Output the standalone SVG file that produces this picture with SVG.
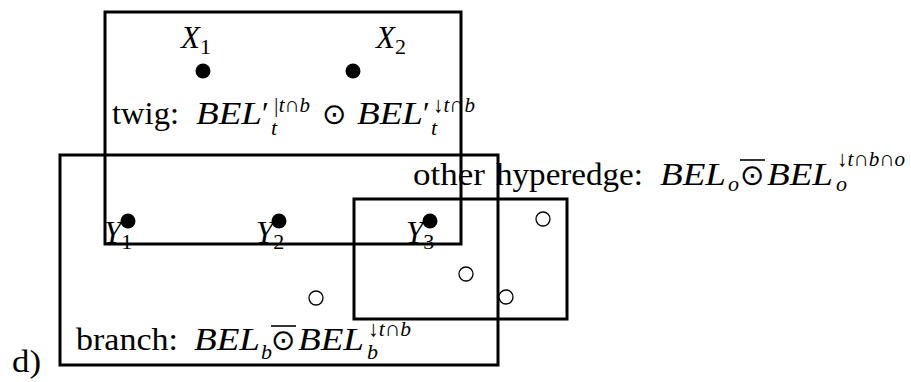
<svg xmlns="http://www.w3.org/2000/svg" width="911" height="382" viewBox="0 0 911 382">
<style>
.edge{fill:none;stroke:#000;stroke-width:3}
.dot{fill:#000}
.hollow{fill:#fff;stroke:#000;stroke-width:1.3}
text{font-family:"Liberation Serif","DejaVu Serif",serif;fill:#000}
.rm{font-size:31px}
.it{font-size:31px;font-style:italic}
.op{font-family:"DejaVu Sans",sans-serif;font-size:29px}
.sm{font-size:22px;font-style:italic}
.smr{font-size:22px}
.bar{stroke:#000;stroke-width:1.6}
</style>
<rect width="911" height="382" fill="#fff"/>
<g id="edges">
<rect id="twig" class="edge" x="105" y="12" width="356" height="232"/>
<rect id="branch" class="edge" x="60" y="155" width="438" height="210"/>
<rect id="other" class="edge" x="354" y="199" width="213" height="120"/>
</g>
<g id="label-twig">
<text class="rm" x="112" y="124" textLength="67" lengthAdjust="spacingAndGlyphs">twig:</text>
<text class="it" x="196" y="124" textLength="66" lengthAdjust="spacingAndGlyphs">BEL</text>
<text class="rm" x="262" y="124">′</text>
<text class="sm" x="273" y="112" textLength="37" lengthAdjust="spacingAndGlyphs">|t∩b</text>
<text class="sm" x="271" y="135">t</text>
<text class="op" x="322" y="124">⊙</text>
<text class="it" x="357" y="124" textLength="66" lengthAdjust="spacingAndGlyphs">BEL</text>
<text class="rm" x="423" y="124">′</text>
<text class="sm" x="433" y="112" textLength="42" lengthAdjust="spacingAndGlyphs">↓t∩b</text>
<text class="sm" x="431" y="135">t</text>
</g>
<g id="label-branch">
<text class="rm" x="76" y="350" textLength="102" lengthAdjust="spacingAndGlyphs">branch:</text>
<text class="it" x="194" y="350" textLength="66" lengthAdjust="spacingAndGlyphs">BEL</text>
<text class="sm" x="261" y="359">b</text>
<line class="bar" x1="271" y1="326" x2="296" y2="326"/>
<text class="op" x="271" y="350">⊙</text>
<text class="it" x="298" y="350" textLength="66" lengthAdjust="spacingAndGlyphs">BEL</text>
<text class="sm" x="368" y="336" textLength="43" lengthAdjust="spacingAndGlyphs">↓t∩b</text>
<text class="sm" x="367" y="359">b</text>
</g>
<g id="label-other">
<text class="rm" x="413" y="185"><tspan textLength="72" lengthAdjust="spacingAndGlyphs">other</tspan> <tspan x="496" textLength="147" lengthAdjust="spacingAndGlyphs">hyperedge:</tspan></text>
<text class="it" x="660" y="185" textLength="66" lengthAdjust="spacingAndGlyphs">BEL</text>
<text class="sm" x="728" y="191">o</text>
<line class="bar" x1="740" y1="160" x2="765" y2="160"/>
<text class="op" x="740" y="185">⊙</text>
<text class="it" x="767" y="185" textLength="66" lengthAdjust="spacingAndGlyphs">BEL</text>
<text class="sm" x="837" y="166" textLength="68" lengthAdjust="spacingAndGlyphs">↓t∩b∩o</text>
<text class="sm" x="836" y="191">o</text>
</g>
<text id="label-d" class="rm" x="12" y="372" textLength="29" lengthAdjust="spacingAndGlyphs">d)</text>
<g id="X1"><text class="it" x="181" y="48">X<tspan class="smr" dy="6" font-style="normal">1</tspan></text><circle class="dot" cx="203" cy="71" r="7.5"/></g>
<g id="X2"><text class="it" x="376" y="48">X<tspan class="smr" dy="6" font-style="normal">2</tspan></text><circle class="dot" cx="353" cy="71" r="7.5"/></g>
<g id="Y1"><text class="it" x="104" y="243">Y<tspan class="smr" dy="6" font-style="normal">1</tspan></text><circle class="dot" cx="128" cy="221" r="7.5"/></g>
<g id="Y2"><text class="it" x="256" y="243">Y<tspan class="smr" dy="6" font-style="normal">2</tspan></text><circle class="dot" cx="279" cy="221" r="7.5"/></g>
<g id="Y3"><text class="it" x="406" y="243">Y<tspan class="smr" dy="6" font-style="normal">3</tspan></text><circle class="dot" cx="430" cy="221" r="7.5"/></g>
<g id="o1"><circle class="hollow" cx="316" cy="298" r="7"/></g>
<g id="o2"><circle class="hollow" cx="466" cy="274" r="7"/></g>
<g id="o3"><circle class="hollow" cx="543" cy="219" r="7"/></g>
<g id="o4"><circle class="hollow" cx="506" cy="297" r="7"/></g>
</svg>
